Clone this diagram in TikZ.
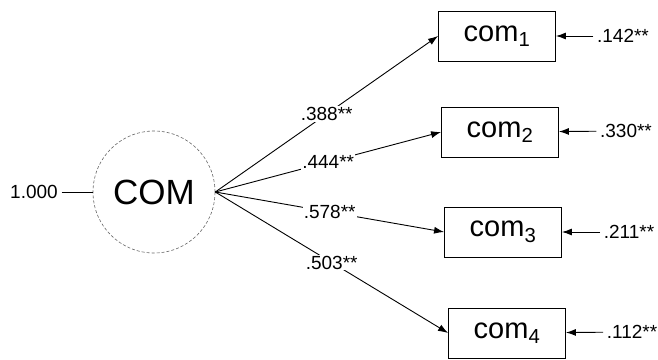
\documentclass[tikz,border=0pt]{standalone}
\usepackage{fontspec}
\setmainfont{Liberation Sans}
\usetikzlibrary{arrows.meta}
\usetikzlibrary{positioning}

\begin{document}
\begin{tikzpicture} [x=1pt,y=-1pt,line width=0.9pt,>={Latex[length=10pt,width=7pt]},
  every node/.style={font=\fontsize{19}{19}\selectfont},
  obs/.style={draw,minimum width=117pt,minimum height=50pt,font=\fontsize{29}{29}\selectfont},
  lat/.style={draw=black!60,densely dashed,line width=0.6pt,circle,minimum size=122pt,font=\fontsize{35}{35}\selectfont},
  val/.style={fill=white,inner sep=1pt}]
\useasboundingbox (0,0) rectangle (658,359);
\node[lat] (f) at (154,192) {COM};
\node (v) at (34,192) {1.000};
\node[obs] (a) at (497,36) {com\textsubscript{1}};
\node[obs] (b) at (500,132) {com\textsubscript{2}};
\node[obs] (c) at (503,232) {com\textsubscript{3}};
\node[obs] (d) at (507,333) {com\textsubscript{4}};
\node (ea) at (623,36) {.142**};
\node (eb) at (626,131) {.330**};
\node (ec) at (629,232) {.211**};
\node (ed) at (632,332) {.112**};

\draw[-](v)--(f);
\draw[->](f.east)--node[val]{.388**}(a.west);
\draw[->](f.east)--node[val]{.444**}(b.west);
\draw[->](f.east)--node[val]{.578**}(c.west);
\draw[->](f.east)--node[val]{.503**}(d.west);
\draw[->](ea)--(a);
\draw[->](eb)--(b);
\draw[->](ec)--(c);
\draw[->](ed)--(d);
\end{tikzpicture}
\end{document}
